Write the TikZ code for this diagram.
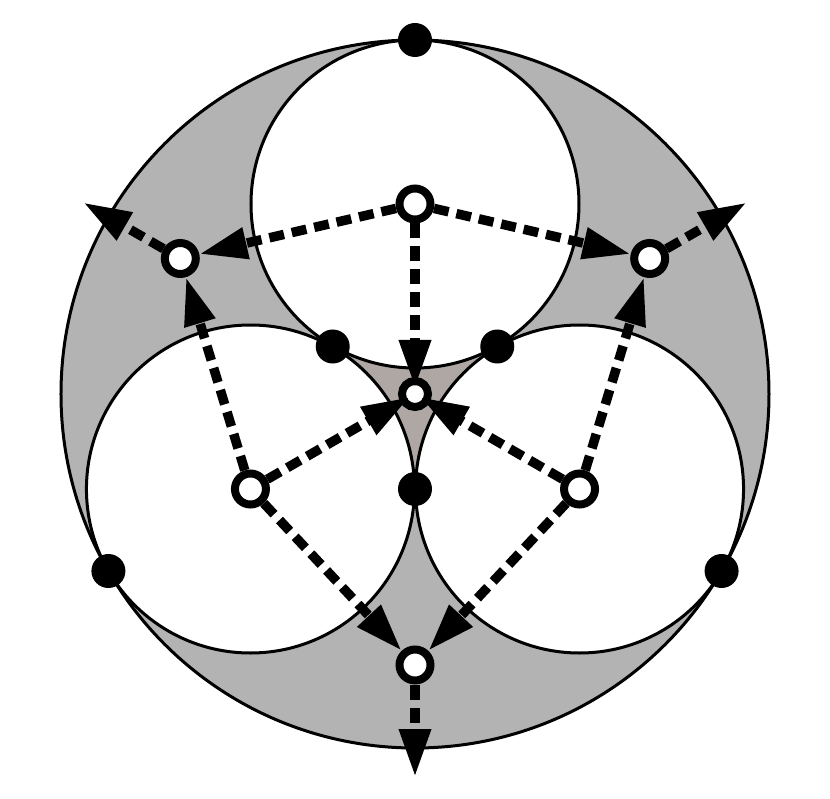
\documentclass[tikz,border=0pt]{standalone}
\usetikzlibrary{arrows.meta}
\definecolor{ringgray}{RGB}{179,179,179}
\definecolor{midgray}{RGB}{174,167,163}
\begin{document}
\begin{tikzpicture}[x=1pt,y=1pt,
	bdot/.style={circle,fill=black,inner sep=0pt,minimum size=34pt},
	wdot/.style={circle,draw,fill=white,line width=8pt,inner sep=0pt,minimum size=31pt},
	cdot/.style={wdot,minimum size=26pt},
	link/.style={line width=9.5pt,dash pattern=on 15pt off 8pt,-{Triangle[length=48pt,width=30pt]}}]
	\useasboundingbox (-415,-404) rectangle (415,394);
	% disc, middle gap and the three circles
	\fill[ringgray] (0,0) circle (354);
	\fill[midgray] (0,0) circle (95);
	\foreach \a in {90,210,330} \draw[line width=3pt,fill=white] (\a:190) circle (164);
	\draw[line width=3pt] (0,0) circle (354);
	% tangent points
	\foreach \a/\n in {90/pt,210/pl,330/pr} \node[bdot] (\n) at (\a:354) {};
	\foreach \a/\n in {150/ql,30/qr,270/qb} \node[bdot] (\n) at (\a:95) {};
	% centres
	\foreach \a/\n in {90/t,210/l,330/r} \node[wdot] (\n) at (\a:190) {};
	\foreach \a/\n in {150/gl,30/gr,270/gb} \node[wdot] (\n) at (\a:271) {};
	\node[cdot] (c) at (0,0) {};
	\foreach \a/\n in {150/ol,30/or,270/ob} \coordinate (\n) at (\a:383);
	% arrows
	\draw[link] (t) -- (gl);
	\draw[link] (t) -- (gr);
	\draw[link] (l) -- (gl);
	\draw[link] (l) -- (gb);
	\draw[link] (r) -- (gr);
	\draw[link] (r) -- (gb);
	\foreach \n in {t,l,r} \draw[link,shorten >=6pt] (\n) -- (c.center);
	\draw[link] (gl) -- (ol);
	\draw[link] (gr) -- (or);
	\draw[link] (gb) -- (ob);
\end{tikzpicture}
\end{document}
